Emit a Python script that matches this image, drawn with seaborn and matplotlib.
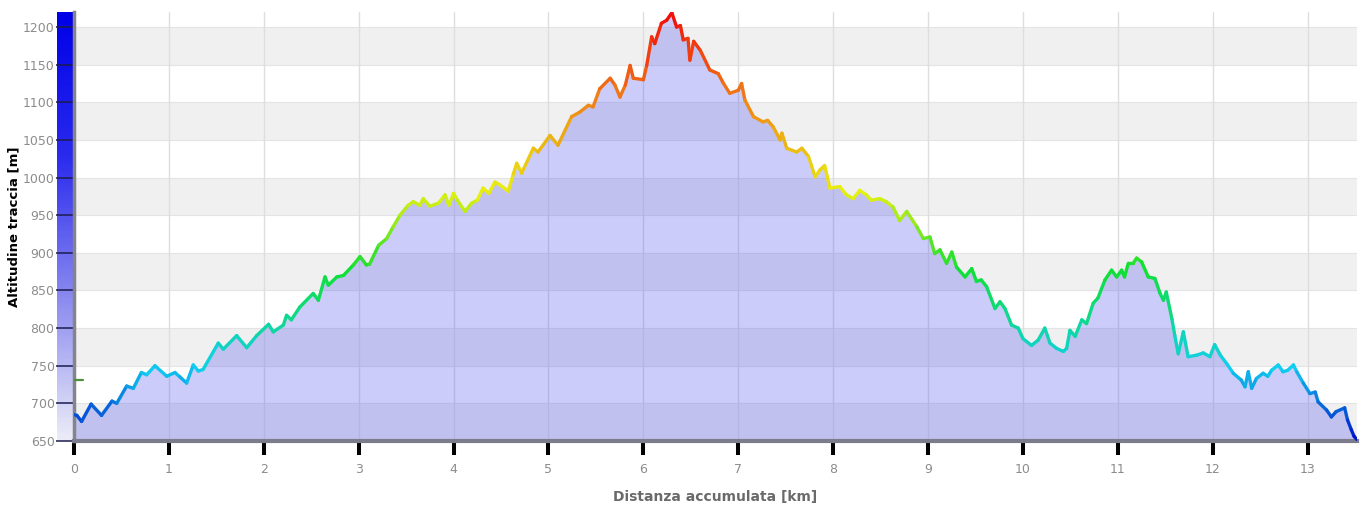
import numpy as np
import pandas as pd
import seaborn as sns
import matplotlib.pyplot as plt
from matplotlib.collections import LineCollection
from matplotlib.colors import LinearSegmentedColormap, Normalize

# distance along the track (km) and altitude (m)
distanza = [0.00, 0.03, 0.08, 0.18, 0.29, 0.40, 0.45, 0.555, 0.625, 0.71, 0.766, 0.853, 0.977,
            1.064, 1.117, 1.187, 1.257, 1.31, 1.36, 1.52, 1.574, 1.714, 1.82, 1.925, 2.05, 2.10,
            2.206, 2.24, 2.29, 2.38, 2.52, 2.575, 2.645, 2.68, 2.77, 2.84, 2.945, 3.014, 3.08,
            3.115, 3.21, 3.295, 3.365, 3.435, 3.52, 3.575, 3.645, 3.68, 3.75, 3.84, 3.91, 3.95,
            4.0, 4.04, 4.12, 4.19, 4.25, 4.31, 4.37, 4.436, 4.49, 4.577, 4.63, 4.665, 4.717,
            4.84, 4.89, 5.016, 5.10, 5.244, 5.33, 5.42, 5.47, 5.54, 5.65, 5.70, 5.753, 5.81,
            5.86, 5.894, 6.0, 6.035, 6.087, 6.12, 6.19, 6.245, 6.30, 6.35, 6.39, 6.42, 6.47,
            6.49, 6.53, 6.60, 6.70, 6.79, 6.84, 6.91, 7.0, 7.035, 7.07, 7.16, 7.26, 7.31, 7.37,
            7.44, 7.46, 7.51, 7.615, 7.67, 7.74, 7.81, 7.86, 7.91, 7.966, 8.07, 8.14, 8.21,
            8.28, 8.35, 8.40, 8.49, 8.56, 8.63, 8.70, 8.775, 8.88, 8.95, 9.02, 9.07, 9.125,
            9.195, 9.25, 9.30, 9.39, 9.46, 9.51, 9.56, 9.617, 9.705, 9.758, 9.81, 9.88, 9.95,
            10.0, 10.09, 10.16, 10.23, 10.285, 10.355, 10.425, 10.46, 10.495, 10.55, 10.62,
            10.67, 10.74, 10.79, 10.864, 10.934, 10.987, 11.04, 11.07, 11.11, 11.16, 11.198,
            11.25, 11.32, 11.39, 11.445, 11.48, 11.51, 11.57, 11.60, 11.636, 11.69, 11.74,
            11.83, 11.90, 11.97, 12.02, 12.08, 12.146, 12.216, 12.30, 12.34, 12.374, 12.41,
            12.46, 12.53, 12.58, 12.62, 12.69, 12.74, 12.79, 12.85, 12.885, 12.954, 13.024,
            13.08, 13.11, 13.2, 13.25, 13.30, 13.39, 13.42, 13.46, 13.49, 13.52]
altitudine = [685, 684, 676, 699, 684, 703, 700, 723, 720, 741, 738, 750, 736,
              741, 735, 727, 751, 743, 745, 780, 772, 790, 774, 790, 805, 795,
              804, 817, 811, 828, 846, 837, 868, 857, 868, 870, 884, 895, 884,
              885, 910, 919, 935, 950, 963, 968, 963, 972, 962, 966, 977, 963,
              979, 970, 955, 966, 970, 986, 979, 994, 990, 982, 1005, 1019, 1006,
              1039, 1034, 1056, 1043, 1081, 1087, 1096, 1094, 1118, 1132, 1123, 1107, 1123,
              1149, 1132, 1130, 1149, 1187, 1178, 1205, 1209, 1219, 1200, 1202, 1183, 1185,
              1156, 1181, 1169, 1143, 1138, 1126, 1112, 1116, 1125, 1103, 1081, 1074, 1076, 1067,
              1050, 1059, 1039, 1034, 1039, 1028, 1001, 1010, 1016, 986, 988, 977, 972,
              983, 977, 970, 972, 968, 961, 943, 955, 935, 919, 921, 899, 904,
              886, 901, 881, 868, 879, 862, 864, 855, 826, 835, 826, 804, 800,
              786, 777, 784, 800, 780, 773, 769, 773, 797, 789, 811,
              806, 833, 840, 864, 877, 868, 877, 868, 886, 886, 893,
              888, 868, 866, 846, 837, 848, 812, 790, 766, 795, 762,
              764, 767, 762, 778, 764, 753, 740, 731, 722, 742, 720,
              733, 740, 736, 744, 751, 742, 744, 751, 742, 727, 713,
              715, 702, 691, 682, 689, 694, 678, 665, 656, 652]

x_ticks = list(range(0, 14))
y_ticks = list(range(650, 1201, 50))
start_alt = 731

df = pd.DataFrame({'km': distanza, 'alt': altitudine})

sns.set_style('white')
plt.rcParams['font.family'] = ['DejaVu Sans']

fig = plt.figure(figsize=(13.62, 5.08), dpi=100)
ax = fig.add_axes([74 / 1362, 67 / 508, 1283 / 1362, 429 / 508])
ax.set_zorder(3)

# blue gradient bar along the y axis
bar = fig.add_axes([57 / 1362, 67 / 508, 17 / 1362, 429 / 508])
bar.set_zorder(1)
bar_cmap = LinearSegmentedColormap.from_list('bar', ['#ececf8', '#8a8af0', '#2a2aee', '#0000e8'])
bar.imshow(np.linspace(1, 0, 200).reshape(-1, 1), aspect='auto', cmap=bar_cmap,
           extent=[0, 1, 0, 1])
bar.axis('off')

ymin, ymax = 650, 1220
xmax = 13.52

# alternating bands
for lo in range(650, 1200, 100):
    ax.axhspan(lo, lo + 50, color='#f0f0f0', zorder=0, lw=0)
for y in y_ticks:
    ax.axhline(y, color='#e4e4e4', lw=0.8, zorder=0.5)
for x in x_ticks:
    ax.axvline(x, color='#dedede', lw=1, zorder=0.5)

ax.fill_between(df['km'], df['alt'], ymin, color='#6464f0', alpha=0.33, lw=0, zorder=1)
sns.lineplot(data=df, x='km', y='alt', ax=ax, color='#9090e8', lw=0.5, zorder=2)

# elevation colour scale: blue -> cyan -> green -> yellow -> orange -> red
cmap = LinearSegmentedColormap.from_list(
    'quota', [(0.0, '#0010c8'), (0.17, '#10d0f0'), (0.40, '#10e030'),
              (0.58, '#e8f010'), (0.80, '#f08018'), (1.0, '#f00a0a')])
pts = np.column_stack([df['km'], df['alt']]).reshape(-1, 1, 2)
segs = np.concatenate([pts[:-1], pts[1:]], axis=1)
mid = (df['alt'].values[:-1] + df['alt'].values[1:]) / 2
lc = LineCollection(segs, colors=cmap(Normalize(ymin, ymax)(mid)), linewidths=2.4,
                    capstyle='round', joinstyle='round', zorder=3)
ax.add_collection(lc)

ax.plot([0, 0.1], [start_alt, start_alt], color='#4f8f3f', lw=1.6, zorder=4)

ax.set_xlim(0, xmax)
ax.set_ylim(ymin, ymax)
ax.set_xticks(x_ticks)
ax.set_yticks(y_ticks)

for s in ['top', 'right']:
    ax.spines[s].set_visible(False)
ax.spines['left'].set_color('#84848c')
ax.spines['left'].set_linewidth(2.5)
ax.spines['bottom'].set_color('#7c7c8c')
ax.spines['bottom'].set_linewidth(3)

ax.tick_params(axis='x', direction='out', length=10, width=2.9, color='black',
               labelsize=9, labelcolor='#8c8c8c', pad=6, bottom=True)
ax.tick_params(axis='y', direction='out', length=13, width=1.1, color='#1c1c50',
               labelsize=9, labelcolor='#8c8c8c', pad=1, left=True)

ax.set_xlabel('Distanza accumulata [km]', fontsize=10, color='#6a6a6a', fontweight='bold')
ax.set_ylabel('Altitudine traccia [m]', fontsize=9.5, color='black', fontweight='bold')
ax.xaxis.set_label_coords(0.5, -0.114)
ax.yaxis.set_label_coords(-0.042, 0.5)

fig.savefig('out.png', dpi=100)
